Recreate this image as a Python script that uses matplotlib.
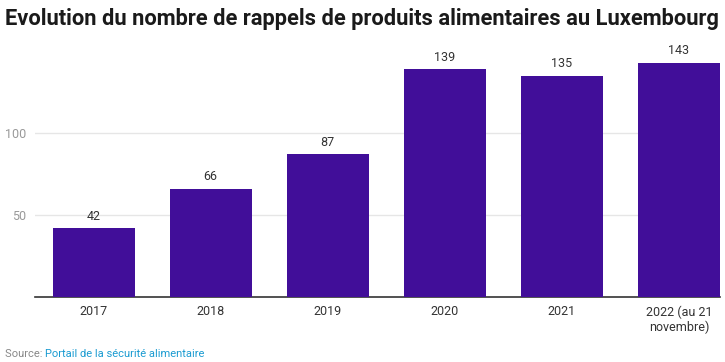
import matplotlib
matplotlib.use("Agg")
import matplotlib.pyplot as plt

categories = ["2017", "2018", "2019", "2020", "2021", "2022 (au 21\nnovembre)"]
values = [42, 66, 87, 139, 135, 143]
yticks = [50, 100]

plt.rcParams['font.family'] = ['Roboto', 'DejaVu Sans']

W, H = 725, 362
fig = plt.figure(figsize=(W/100, H/100), dpi=100)
# axes in pixel coords
left, right = 35, 720
bottom, top = 297, 56
ax = fig.add_axes([left/W, 1-bottom/H, (right-left)/W, (bottom-top)/H])

bar_color = "#410e99"
x = range(len(categories))
bars = ax.bar(x, values, width=0.7, color=bar_color, zorder=3)
for xi, v in zip(x, values):
    ax.annotate(str(v), (xi, v), xytext=(0, 4), textcoords="offset points",
                ha="center", va="bottom", fontsize=9, color="#333333")

ax.set_xlim(-0.5, 5.35)
ax.set_ylim(0, 147)
ax.set_yticks(yticks)
ax.set_xticks(list(x))
ax.set_xticklabels(categories)
ax.grid(axis="y", color="#e6e6e6", linewidth=1, zorder=0)
for s in ["top", "right", "left"]:
    ax.spines[s].set_visible(False)
ax.spines["bottom"].set_color("#333333")
ax.spines["bottom"].set_linewidth(1.2)
ax.tick_params(axis="x", length=0, pad=6, labelsize=9, labelcolor="#333333")
ax.tick_params(axis="y", length=0, pad=6, labelsize=9, labelcolor="#999999")

fig.text(5/W, 1-19/H, "Evolution du nombre de rappels de produits alimentaires au Luxembourg",
         fontsize=15.75, fontweight="bold", color="#1a1a1a", va="center", ha="left")

t1 = fig.text(5/W, 1-354/H, "Source: ", fontsize=8, color="#888888", va="center", ha="left")
fig.canvas.draw()
bb = t1.get_window_extent()
fig.text(bb.x1/W, 1-354/H, "Portail de la sécurité alimentaire", fontsize=8,
         color="#1a9bd1", va="center", ha="left")

fig.savefig("out.png", dpi=100)
